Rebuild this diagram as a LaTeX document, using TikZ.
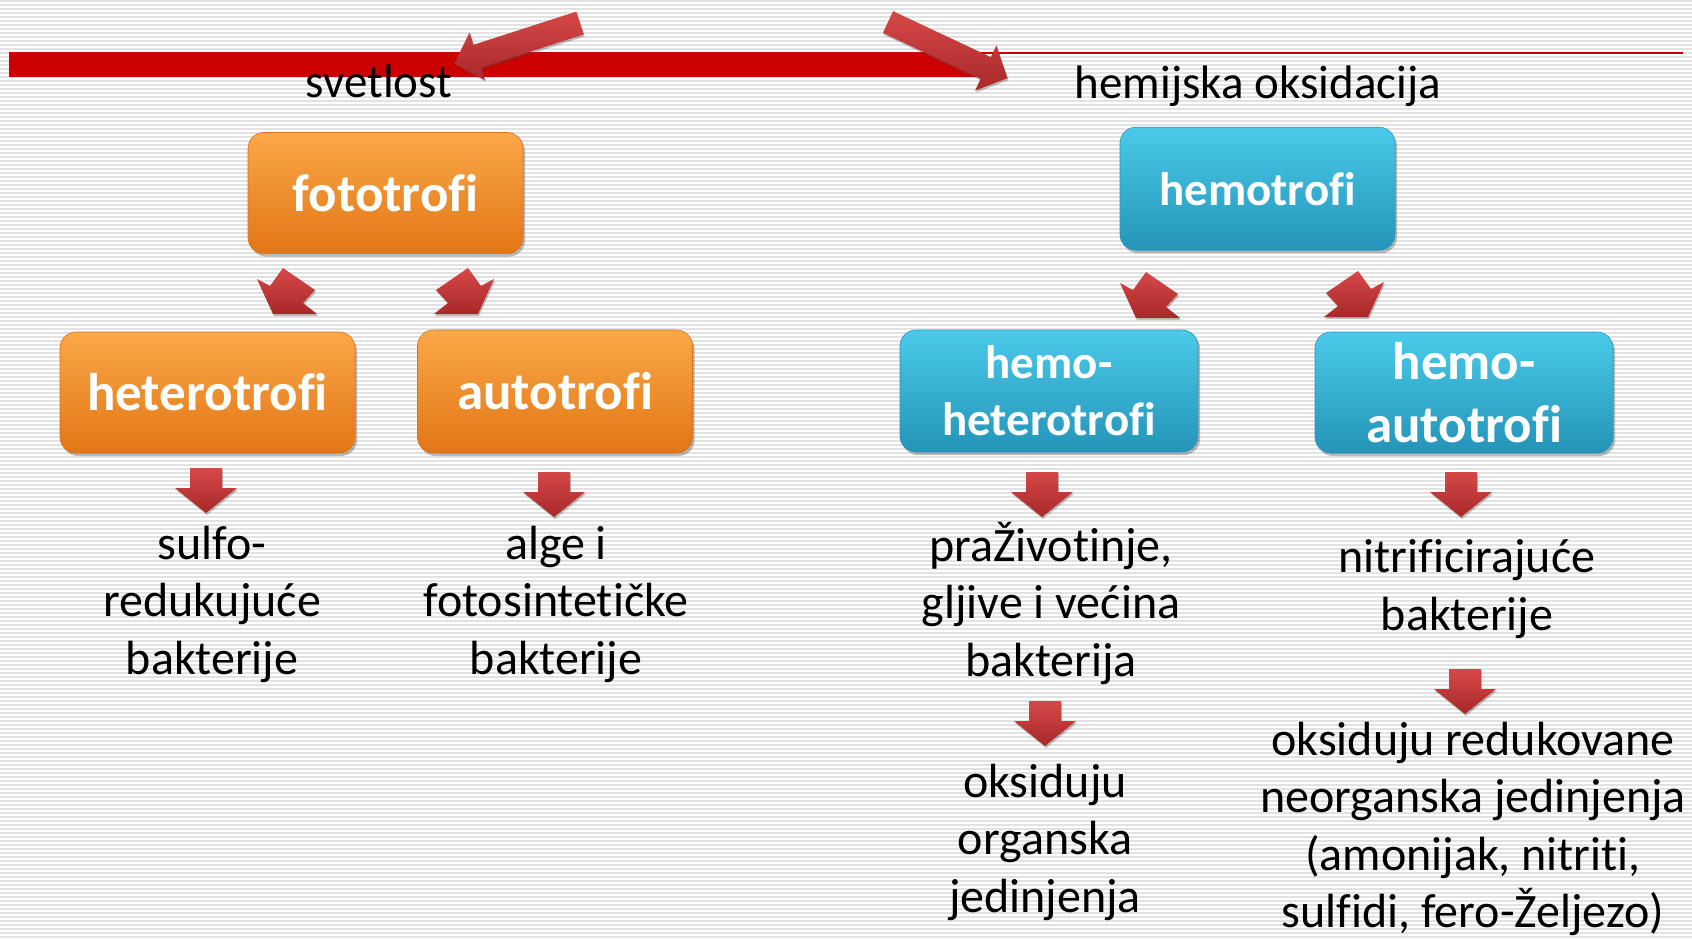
\documentclass[tikz,border=0pt]{standalone}
\usepackage{fontspec}
\setmainfont{Carlito}[Ligatures={NoCommon}]
\usetikzlibrary{shadows,calc}

\definecolor{barred}{RGB}{204,0,0}
\definecolor{ortop}{RGB}{250,168,72}
\definecolor{orbot}{RGB}{226,118,22}
\definecolor{orline}{RGB}{215,115,30}
\definecolor{bltop}{RGB}{74,202,234}
\definecolor{blbot}{RGB}{36,148,184}
\definecolor{blline}{RGB}{40,150,185}
\definecolor{artop}{RGB}{214,72,72}
\definecolor{arbot}{RGB}{168,40,40}
\definecolor{stripegray}{RGB}{226,226,226}

\begin{document}
\begin{tikzpicture}[x=1pt,y=-1pt,
  box/.style={rounded corners=16pt, minimum height=121pt, inner sep=0pt, align=center,
    text=white, font=\bfseries\fontsize{53}{63}\selectfont,
    drop shadow={shadow xshift=2pt, shadow yshift=-3pt, opacity=0.45, fill=black!60}},
  obox/.style={box, top color=ortop, bottom color=orbot, draw=orline, line width=0.6pt},
  bbox/.style={box, top color=bltop, bottom color=blbot, draw=blline, line width=0.6pt},
  lbl/.style={align=center, font=\fontsize{48}{57.5}\selectfont, inner sep=0pt},
  ttl/.style={anchor=base, inner sep=0pt, font=\fontsize{47}{57}\selectfont},
  blockarr/.style={top color=artop, bottom color=arbot,
    drop shadow={shadow xshift=1pt, shadow yshift=-2pt, opacity=0.35, fill=black!70}},
  downarr/.pic={\path[blockarr] (-16,0) -- (16,0) -- (16,20) -- (31,20) -- (0,45) -- (-31,20) -- (-16,20) -- cycle;},
  diagR/.pic={\path[blockarr] (30,-12) -- (17,-5) -- (4,-23) -- (-28,-1) -- (-16,12) -- (-30,23) -- (14,23) -- cycle;},
  diagL/.pic={\path[blockarr] (-30,-12) -- (-17,-5) -- (-4,-23) -- (28,-1) -- (16,12) -- (30,23) -- (-14,23) -- cycle;},
  bigarr/.pic={\path[blockarr] (0,-12) -- (108,-12) -- (108,-25) -- (132,0) -- (108,25) -- (108,12) -- (0,12) -- cycle;}
]
\useasboundingbox (0,0) rectangle (1692,938);
\fill[white] (0,0) rectangle (1692,938);
\foreach \yy in {1,5,...,937} \draw[stripegray, line width=1.6pt] (0,\yy) -- (1692,\yy);

% red bar
\fill[barred] (9,52) rectangle (985,77);
\draw[barred, line width=2pt] (985,53) -- (1683,53);

% big arrows
\pic[shift={(580,23)}, rotate=197.9] (bigL) {bigarr};
\pic[shift={(888,22)}, rotate=-25.2] (bigR) {bigarr};

% titles
\node[ttl] (svet) at (379,97) {svetlost};
\node[ttl] (hemox) at (1258,98) {hemijska oksidacija};

% boxes
\node[obox, minimum width=275pt] (foto) at (385.5,193) {fototrofi};
\node[obox, minimum width=295pt] (het) at (207.5,392.5) {heterotrofi};
\node[obox, minimum width=275pt, minimum height=123pt] (aut) at (555,391.5) {autotrofi};
\node[bbox, minimum width=275pt, minimum height=123pt, font=\bfseries\fontsize{47}{57}\selectfont] (hemo) at (1257.5,188.7) {hemotrofi};
\node[bbox, minimum width=298pt, minimum height=122pt, font=\bfseries\fontsize{47}{57}\selectfont] (hhet) at (1049,391) {hemo-\\heterotrofi};
\node[bbox, minimum width=298pt] (haut) at (1464,392.5) {hemo-\\autotrofi};

% diagonal arrows
\pic at (287,291) {diagL};
\pic at (464,291) {diagR};
\pic at (1150,295) {diagL};
\pic at (1354,294) {diagR};

% down arrows
\pic (d1) at (206,468) {downarr};
\pic (d2) at (554,472) {downarr};
\pic (d3) at (1042,472) {downarr};
\pic (d4) at (1461,472) {downarr};
\pic (d5) at (1045,701) {downarr};
\pic (d6) at (1465,669) {downarr};

% labels
\node[lbl] (t1) at (212,604) {sulfo-\\redukujuće\\bakterije};
\node[lbl] (t2) at (556,604) {alge i\\fotosintetičke\\bakterije};
\node[lbl] (t3) at (1051,603) {praŽivotinje,\\gljive i većina\\bakterija};
\node[lbl] (t4) at (1045,842) {oksiduju\\organska\\jedinjenja};
\node[lbl] (t5) at (1467,589) {nitrificirajuće\\bakterije};
\node[lbl] (t6) at (1473,829) {oksiduju redukovane\\neorganska jedinjenja\\(amonijak, nitriti,\\sulfidi, fero-Željezo)};
\end{tikzpicture}
\end{document}
